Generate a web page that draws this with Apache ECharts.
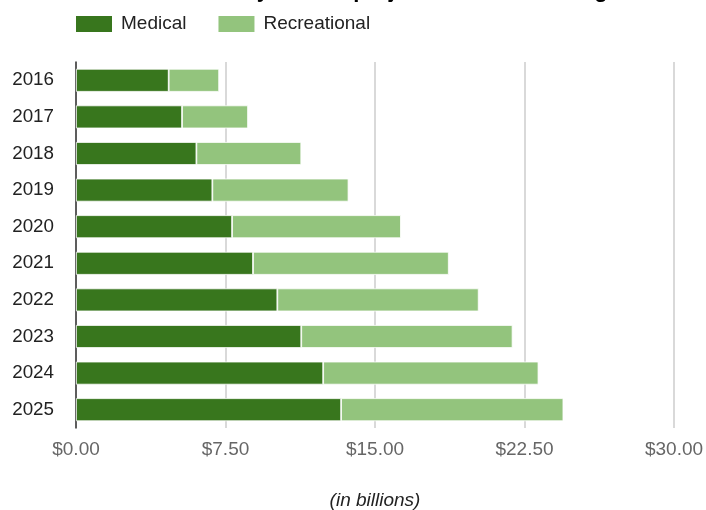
<!DOCTYPE html>
<html>
<head>
<meta charset="utf-8">
<script src="https://cdn.jsdelivr.net/npm/echarts@6/dist/echarts.min.js"></script>
<style>
html,body{margin:0;padding:0;background:#fff;}
#c{width:706px;height:510px;}
</style>
</head>
<body>
<div id="c"></div>
<script>
const titleText = "Cannabis industry market projections for each segment";
const years = ["2016","2017","2018","2019","2020","2021","2022","2023","2024","2025"];
const medical = [4.65, 5.32, 6.04, 6.84, 7.83, 8.88, 10.1, 11.3, 12.4, 13.3];
const recreational = [2.53, 3.31, 5.26, 6.83, 8.47, 9.82, 10.1, 10.6, 10.8, 11.15];
const xTicks = [0, 7.5, 15, 22.5, 30];
const axisName = "(in billions)";

const chart = echarts.init(document.getElementById('c'), null, {renderer:'canvas'});
const font = "Liberation Sans, Arial, sans-serif";
chart.setOption({
  animation:false,
  backgroundColor:'#fff',
  title:{
    text:titleText, left:72, top:-25,
    textStyle:{fontFamily:font, fontSize:22, fontWeight:'bold', color:'#000'}
  },
  legend:{
    left:69, top:9, itemWidth:38, itemHeight:18, itemGap:30,
    icon:'rect',
    textStyle:{fontFamily:font, fontSize:19, color:'#222', padding:[0,0,0,3]},
    data:['Medical','Recreational']
  },
  grid:{left:76, right:32, top:62, bottom:82, containLabel:false, outerBoundsMode:'none'},
  xAxis:{
    type:'value', min:xTicks[0], max:xTicks[xTicks.length-1], interval:7.5,
    name:axisName, nameLocation:'middle', nameGap:63,
    nameTextStyle:{fontFamily:font, fontSize:19, fontStyle:'italic', color:'#222'},
    axisLine:{show:false}, axisTick:{show:false},
    splitLine:{show:true, lineStyle:{color:'#cccccc', width:1.5}},
    axisLabel:{fontFamily:font, fontSize:19, color:'#666', margin:12,
      formatter:v=>'$'+v.toFixed(2)}
  },
  yAxis:{
    type:'category', data:years, inverse:true,
    axisLine:{show:true, lineStyle:{color:'#333', width:1.5}},
    axisTick:{show:false},
    axisLabel:{fontFamily:font, fontSize:18.8, color:'#222', margin:22}
  },
  series:[
    {name:'Medical', type:'bar', stack:'t', data:medical, barWidth:23,
     itemStyle:{color:'#38761d', borderColor:'#fff', borderWidth:0.8}},
    {name:'Recreational', type:'bar', stack:'t', data:recreational, barWidth:23,
     itemStyle:{color:'#93c47d', borderColor:'#fff', borderWidth:0.8}}
  ]
});
</script>
</body>
</html>
